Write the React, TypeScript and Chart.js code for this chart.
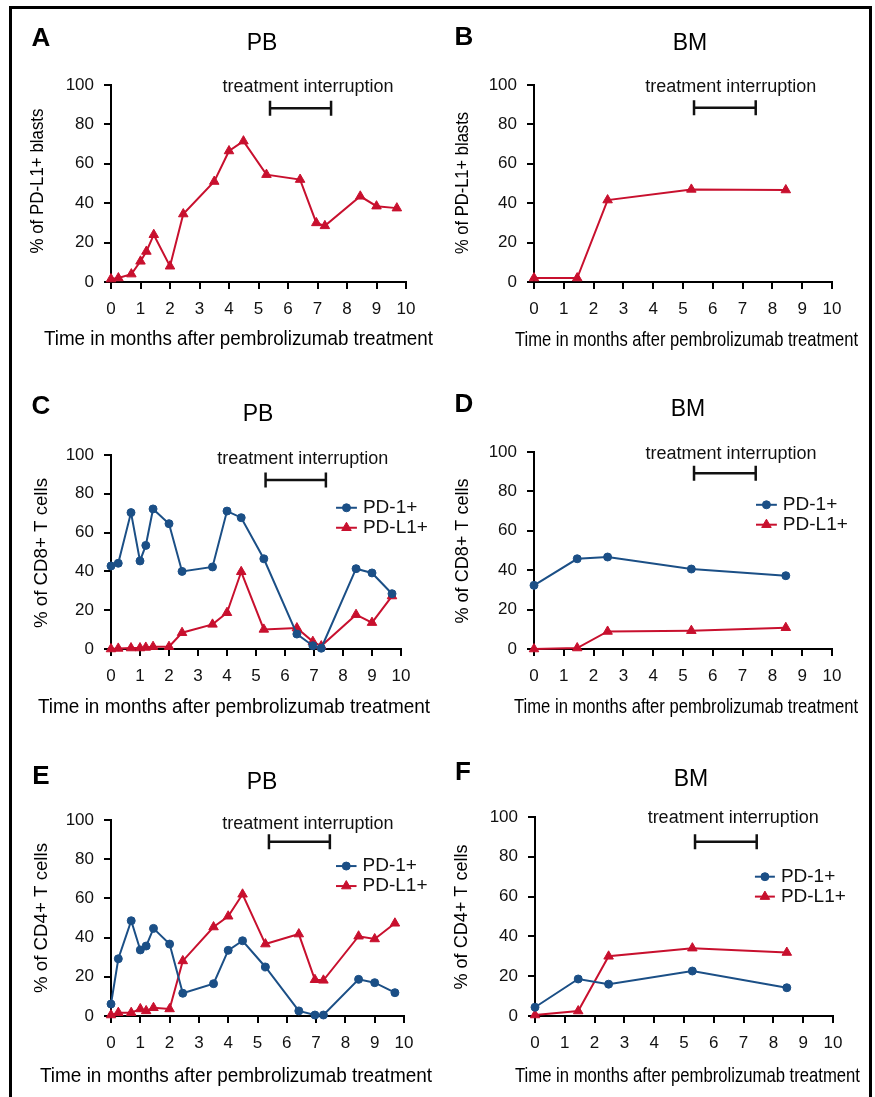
import React, { useEffect, useRef } from 'react';
import { Chart, registerables } from 'chart.js';

Chart.register(...registerables);

// ---------------- data ----------------
const pbMonths = [0, 0.25, 0.69, 1.0, 1.2, 1.45, 2.0, 2.45, 3.5, 4.0, 4.49, 5.27, 6.41, 6.96, 7.25, 8.45, 9.0, 9.69];
const bmMonths = [0, 1.45, 2.47, 5.28, 8.45];

const pbBlastsPDL1 = [1.5, 2, 4, 10.5, 15.5, 24, 8, 34.5, 51, 66.5, 71.5, 54.5, 52, 30, 28.5, 43.5, 38.5, 37.5];
const bmBlastsPDL1 = [2, 2, 41.6, 47, 46.7];

const pbCD8PD1 = [42.8, 44.2, 70.3, 45.4, 53.4, 72.2, 64.6, 40.0, 42.3, 71.1, 67.7, 46.5, 7.7, 1.7, 0.4, 41.4, 39.2, 28.5];
const pbCD8PDL1 = [0, 0.3, 0.5, 0.5, 0.8, 1.2, 1.2, 8.4, 12.7, 18.7, 39.8, 10.1, 10.8, 3.8, 1.5, 17.7, 13.6, 27.3];
const bmCD8PD1 = [32.3, 45.8, 46.7, 40.6, 37.2];
const bmCD8PDL1 = [0, 0.5, 8.9, 9.3, 10.8];

const pbCD4PD1 = [6.1, 29.2, 48.6, 33.7, 35.7, 44.7, 36.7, 11.6, 16.5, 33.5, 38.4, 25.0, 2.6, 0.5, 0.5, 18.7, 17.0, 11.9];
const pbCD4PDL1 = [0.5, 1.7, 1.7, 3.6, 2.6, 4.2, 3.6, 28.1, 45.4, 50.9, 62.1, 36.7, 41.8, 18.5, 18.2, 40.7, 39.3, 47.3];
const bmCD4PD1 = [4.4, 18.6, 16.0, 22.6, 14.2];
const bmCD4PDL1 = [0.5, 2.5, 30.0, 34.1, 31.9];

const xTickValues = [0, 1, 2, 3, 4, 5, 6, 7, 8, 9, 10];
const yTickValues = [0, 20, 40, 60, 80, 100];

const seriesLabels = ['PD-1+', 'PD-L1+'];
const xAxisTitle = 'Time in months after pembrolizumab treatment';
const annotationText = 'treatment interruption';

// ---------------- styles ----------------
const RED = '#C8102E';
const BLUE = '#1B4F86';
const INK = '#111111';
const FONT = '"Liberation Sans", Arial, Helvetica, sans-serif';
const Y_W = 60;
const X_H = 45;

type Series = { label: string; months: number[]; values: number[]; color: string; shape: 'circle' | 'triangle' };
type Panel = {
  canvas: { x: number; y: number; w: number; h: number };
  area: { l: number; r: number; t: number; b: number };
  letter: { text: string; x: number; y: number };
  title: { text: string; x: number; y: number };
  yTitle: { text: string; x: number; y: number; len: number };
  xTitle: { l: number; r: number; base: number };
  series: Series[];
  bar: { x1: number; x2: number; y: number; tx: number; ty: number };
  legend?: { x1: number; x2: number; ys: number[] };
};

const pdl1 = (months: number[], values: number[]): Series => ({ label: seriesLabels[1], months, values, color: RED, shape: 'triangle' });
const pd1 = (months: number[], values: number[]): Series => ({ label: seriesLabels[0], months, values, color: BLUE, shape: 'circle' });

const LC = { x: 12, w: 428 };
const RC = { x: 440, w: 428 };
const R1 = { y: 12, h: 353 };
const R2 = { y: 365, h: 370 };
const R3 = { y: 735, h: 362 };

const panels: Panel[] = [
  {
    canvas: { x: LC.x, w: LC.w, y: R1.y, h: R1.h },
    area: { l: 111, r: 406, t: 85, b: 282 },
    letter: { text: 'A', x: 41, y: 39 },
    title: { text: 'PB', x: 262, y: 44 },
    yTitle: { text: '% of PD-L1+ blasts', x: 38, y: 181, len: 145 },
    xTitle: { l: 44, r: 433, base: 345 },
    series: [{ ...pdl1(pbMonths, pbBlastsPDL1), label: 'PD-L1+ blasts' }],
    bar: { x1: 5.39, x2: 7.46, y: 88.2, tx: 6.68, ty: 98.8 },
  },
  {
    canvas: { x: RC.x, w: RC.w, y: R1.y, h: R1.h },
    area: { l: 534, r: 832, t: 85, b: 282 },
    letter: { text: 'B', x: 464, y: 38 },
    title: { text: 'BM', x: 690, y: 44 },
    yTitle: { text: '% of PD-L1+ blasts', x: 463, y: 183, len: 142 },
    xTitle: { l: 515, r: 858, base: 346 },
    series: [{ ...pdl1(bmMonths, bmBlastsPDL1), label: 'PD-L1+ blasts' }],
    bar: { x1: 5.37, x2: 7.44, y: 88.5, tx: 6.6, ty: 99.1 },
  },
  {
    canvas: { x: LC.x, w: LC.w, y: R2.y, h: R2.h },
    area: { l: 111, r: 401, t: 455, b: 649 },
    letter: { text: 'C', x: 41, y: 407 },
    title: { text: 'PB', x: 258, y: 415 },
    yTitle: { text: '% of CD8+ T cells', x: 42, y: 553, len: 150 },
    xTitle: { l: 38, r: 430, base: 713 },
    series: [pd1(pbMonths, pbCD8PD1), pdl1(pbMonths, pbCD8PDL1)],
    bar: { x1: 5.33, x2: 7.41, y: 87.1, tx: 6.61, ty: 97.8 },
    legend: { x1: 7.76, x2: 8.48, ys: [72.8, 62.5] },
  },
  {
    canvas: { x: RC.x, w: RC.w, y: R2.y, h: R2.h },
    area: { l: 534, r: 832, t: 452, b: 649 },
    letter: { text: 'D', x: 464, y: 405 },
    title: { text: 'BM', x: 688, y: 410 },
    yTitle: { text: '% of CD8+ T cells', x: 463, y: 551, len: 145 },
    xTitle: { l: 514, r: 858, base: 713 },
    series: [pd1(bmMonths, bmCD8PD1), pdl1(bmMonths, bmCD8PDL1)],
    bar: { x1: 5.37, x2: 7.44, y: 89.2, tx: 6.61, ty: 99.1 },
    legend: { x1: 7.45, x2: 8.15, ys: [73.2, 63.1] },
  },
  {
    canvas: { x: LC.x, w: LC.w, y: R3.y, h: R3.h },
    area: { l: 111, r: 404, t: 820, b: 1016 },
    letter: { text: 'E', x: 41, y: 777 },
    title: { text: 'PB', x: 262, y: 783 },
    yTitle: { text: '% of CD4+ T cells', x: 42, y: 918, len: 150 },
    xTitle: { l: 40, r: 432, base: 1082 },
    series: [pd1(pbMonths, pbCD4PD1), pdl1(pbMonths, pbCD4PDL1)],
    bar: { x1: 5.39, x2: 7.47, y: 88.9, tx: 6.72, ty: 98 },
    legend: { x1: 7.68, x2: 8.38, ys: [76.5, 66.3] },
  },
  {
    canvas: { x: RC.x, w: RC.w, y: R3.y, h: R3.h },
    area: { l: 535, r: 833, t: 817, b: 1016 },
    letter: { text: 'F', x: 463, y: 773 },
    title: { text: 'BM', x: 691, y: 780 },
    yTitle: { text: '% of CD4+ T cells', x: 462, y: 917, len: 145 },
    xTitle: { l: 515, r: 860, base: 1082 },
    series: [pd1(bmMonths, bmCD4PD1), pdl1(bmMonths, bmCD4PDL1)],
    bar: { x1: 5.37, x2: 7.44, y: 87.6, tx: 6.65, ty: 99.5 },
    legend: { x1: 7.38, x2: 8.05, ys: [70, 60] },
  },
];

function drawMarker(ctx: CanvasRenderingContext2D, shape: string, x: number, y: number, r: number, color: string) {
  ctx.save();
  ctx.fillStyle = color;
  ctx.strokeStyle = color;
  ctx.lineWidth = 1;
  ctx.beginPath();
  if (shape === 'circle') {
    ctx.arc(x, y, r, 0, Math.PI * 2);
  } else {
    let rad = 0;
    const tp = (2 * Math.PI) / 3;
    ctx.moveTo(x + Math.sin(rad) * r, y - Math.cos(rad) * r);
    rad += tp;
    ctx.lineTo(x + Math.sin(rad) * r, y - Math.cos(rad) * r);
    rad += tp;
    ctx.lineTo(x + Math.sin(rad) * r, y - Math.cos(rad) * r);
    ctx.closePath();
  }
  ctx.fill();
  ctx.stroke();
  ctx.restore();
}

function makeDecor(p: Panel) {
  return {
    id: 'decor',
    afterDraw(chart: any) {
      const ctx: CanvasRenderingContext2D = chart.ctx;
      const xs = chart.scales.x;
      const ys = chart.scales.y;
      const ox = p.canvas.x;
      const oy = p.canvas.y;
      ctx.save();
      ctx.fillStyle = INK;
      ctx.strokeStyle = INK;

      // treatment interruption bar
      const bx1 = xs.getPixelForValue(p.bar.x1);
      const bx2 = xs.getPixelForValue(p.bar.x2);
      const by = ys.getPixelForValue(p.bar.y);
      ctx.lineWidth = 2.5;
      ctx.beginPath();
      ctx.moveTo(bx1, by);
      ctx.lineTo(bx2, by);
      ctx.moveTo(bx1, by - 7.5);
      ctx.lineTo(bx1, by + 7.5);
      ctx.moveTo(bx2, by - 7.5);
      ctx.lineTo(bx2, by + 7.5);
      ctx.stroke();
      ctx.font = `18px ${FONT}`;
      ctx.textAlign = 'center';
      ctx.textBaseline = 'middle';
      ctx.fillText(annotationText, xs.getPixelForValue(p.bar.tx), ys.getPixelForValue(p.bar.ty));

      // legend
      if (p.legend) {
        const lx1 = xs.getPixelForValue(p.legend.x1);
        const lx2 = xs.getPixelForValue(p.legend.x2);
        p.series.forEach((s, i) => {
          const ly = ys.getPixelForValue(p.legend!.ys[i]);
          ctx.strokeStyle = s.color;
          ctx.lineWidth = 2;
          ctx.beginPath();
          ctx.moveTo(lx1, ly);
          ctx.lineTo(lx2, ly);
          ctx.stroke();
          drawMarker(ctx, s.shape, (lx1 + lx2) / 2, ly, s.shape === 'circle' ? 4 : 5.5, s.color);
          ctx.fillStyle = INK;
          ctx.font = `19px ${FONT}`;
          ctx.textAlign = 'left';
          ctx.textBaseline = 'middle';
          ctx.fillText(s.label, lx2 + 6, ly);
        });
      }

      // panel letter and title
      ctx.fillStyle = '#000';
      ctx.textAlign = 'center';
      ctx.textBaseline = 'middle';
      ctx.font = `bold 26px ${FONT}`;
      ctx.fillText(p.letter.text, p.letter.x - ox, p.letter.y - oy);
      ctx.font = `23px ${FONT}`;
      ctx.fillText(p.title.text, p.title.x - ox, p.title.y - oy);

      // y title (rotated, condensed)
      ctx.save();
      ctx.font = `19px ${FONT}`;
      const yw = ctx.measureText(p.yTitle.text).width;
      ctx.translate(p.yTitle.x - ox, p.yTitle.y - oy);
      ctx.rotate(-Math.PI / 2);
      ctx.scale(p.yTitle.len / yw, 1);
      ctx.textAlign = 'center';
      ctx.textBaseline = 'middle';
      ctx.fillText(p.yTitle.text, 0, 0);
      ctx.restore();

      // x title (condensed)
      ctx.save();
      ctx.font = `21px ${FONT}`;
      const xw = ctx.measureText(xAxisTitle).width;
      ctx.translate(p.xTitle.l - ox, p.xTitle.base - oy);
      ctx.scale((p.xTitle.r - p.xTitle.l) / xw, 1);
      ctx.textAlign = 'left';
      ctx.textBaseline = 'alphabetic';
      ctx.fillText(xAxisTitle, 0, 0);
      ctx.restore();

      ctx.restore();
    },
  };
}

function PanelChart({ p }: { p: Panel }) {
  const ref = useRef<HTMLCanvasElement>(null);
  useEffect(() => {
    const canvas = ref.current!;
    const padding = {
      left: p.area.l - p.canvas.x - Y_W,
      top: p.area.t - p.canvas.y,
      right: p.canvas.x + p.canvas.w - p.area.r,
      bottom: p.canvas.y + p.canvas.h - p.area.b - X_H,
    };
    const datasets = p.series.map((s) => ({
      label: s.label,
      data: s.months.map((m, i) => ({ x: m, y: s.values[i] })),
      borderColor: s.color,
      backgroundColor: s.color,
      borderWidth: 2,
      pointStyle: s.shape,
      pointRadius: s.shape === 'circle' ? 4 : 5.5,
      pointBackgroundColor: s.color,
      pointBorderColor: s.color,
      pointBorderWidth: 1,
      tension: 0,
      clip: false as any,
    }));
    const axisCommon = {
      type: 'linear' as const,
      border: { display: true, color: '#000', width: 2 },
      grid: {
        display: true,
        drawOnChartArea: false,
        drawTicks: true,
        tickLength: 7,
        tickColor: '#000',
        tickWidth: 2,
        color: '#000',
        lineWidth: 2,
      },
    };
    const chart = new Chart(canvas, {
      type: 'line',
      data: { datasets },
      options: {
        animation: false,
        responsive: false,
        events: [],
        layout: { padding },
        plugins: { legend: { display: false }, tooltip: { enabled: false }, title: { display: false } },
        scales: {
          x: {
            ...axisCommon,
            min: xTickValues[0],
            max: xTickValues[xTickValues.length - 1],
            afterBuildTicks: (scale: any) => {
              scale.ticks = xTickValues.map((v) => ({ value: v }));
            },
            afterFit: (scale: any) => {
              scale.height = X_H;
            },
            ticks: {
              autoSkip: false,
              maxRotation: 0,
              padding: 10,
              color: INK,
              font: { family: FONT, size: 17 },
            },
          },
          y: {
            ...axisCommon,
            min: yTickValues[0],
            max: yTickValues[yTickValues.length - 1],
            afterBuildTicks: (scale: any) => {
              scale.ticks = yTickValues.map((v) => ({ value: v }));
            },
            afterFit: (scale: any) => {
              scale.width = Y_W;
            },
            ticks: {
              padding: 10,
              color: INK,
              font: { family: FONT, size: 17 },
            },
          },
        },
      },
      plugins: [makeDecor(p)],
    } as any);
    return () => chart.destroy();
  }, [p]);
  return (
    <canvas
      ref={ref}
      width={p.canvas.w}
      height={p.canvas.h}
      style={{ position: 'absolute', left: p.canvas.x, top: p.canvas.y, width: p.canvas.w, height: p.canvas.h }}
    />
  );
}

export default function App() {
  return (
    <div style={{ position: 'absolute', left: 0, top: 0, width: 875, height: 1097, overflow: 'hidden', background: '#fff' }}>
      <div
        style={{
          position: 'absolute',
          left: 9,
          top: 6,
          width: 863,
          height: 1110,
          border: '3px solid #000',
          boxSizing: 'border-box',
        }}
      />
      {panels.map((p, i) => (
        <PanelChart key={i} p={p} />
      ))}
    </div>
  );
}
